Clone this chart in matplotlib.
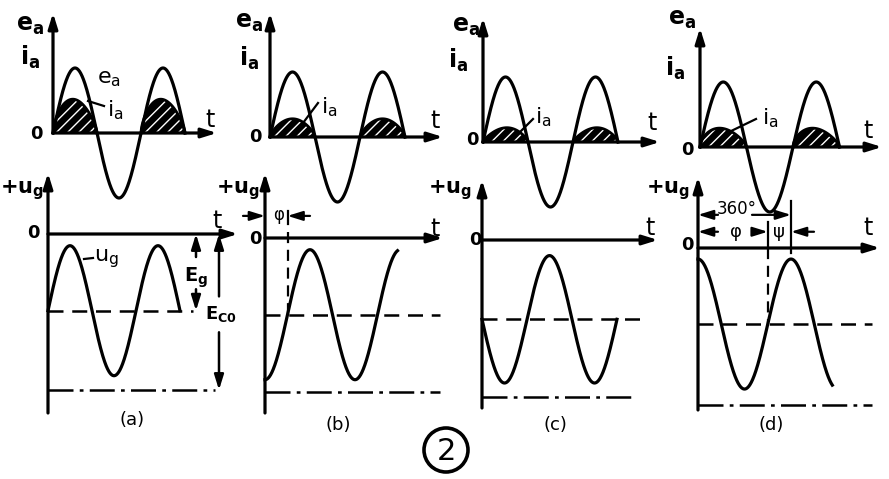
import numpy as np
import matplotlib.pyplot as plt
from matplotlib.patches import Circle

# ---- values (1 unit = peak of e_a) ----
panel_labels = ['(a)', '(b)', '(c)', '(d)']
phi_deg = [0, 90, 180, 270]             # lag of u_g behind e_a
ia_peak = [0.52, 0.28, 0.22, 0.29]      # height of the i_a pulses
ia_peak_pos = [0.45, 0.50, 0.53, 0.42]  # where the pulse peaks inside the half cycle
ug_amp = [1.0, 1.0, 0.98, 1.0]
Eg = [1.18, 1.18, 1.22, 1.17]           # grid bias, dashed line
Ec0 = [2.4, 2.37, 2.42, 2.42]           # cut-off bias, dash-dot line
ug_end_deg = [540, 530, 540, 520]
ea_end_deg = 540

# ---- layout of the four sketches, pixels of the 889x479 picture ----
W, H = 889, 479
UNIT = 65.0
top_origin = [(53, 133), (270, 137), (483, 142), (700, 147)]
bot_origin = [(48, 234), (265, 238), (482, 240), (698, 248)]
period_px = [88, 90, 90, 93]
top_tip = [13, 13, 18, 28]
top_end = [217, 443, 660, 882]
bot_tip = [173, 173, 180, 177]
bot_foot = [413, 413, 408, 410]
bot_end = [238, 443, 658, 880]
bias_end = [193, 440, 643, 872]
cut_end = [215, 440, 633, 872]

plt.rcParams['mathtext.fontset'] = 'dejavusans'
plt.rcParams['hatch.color'] = 'white'
plt.rcParams['hatch.linewidth'] = 1.0

fig = plt.figure(figsize=(W / 100, H / 100), dpi=100)
LW = 2.3
K = 'black'


def make_axes(origin, period):
    ox, oy = origin
    sx = period / 360.0
    ax = fig.add_axes([0, 0, 1, 1])
    ax.set_xlim(-ox / sx, (W - ox) / sx)
    ax.set_ylim((oy - H) / UNIT, oy / UNIT)
    ax.axis('off')
    xd = lambda px: (px - ox) / sx
    yd = lambda py: (oy - py) / UNIT
    return ax, xd, yd


def arrow(ax, x0, y0, x1, y1, lw=LW):
    ax.annotate('', xy=(x1, y1), xytext=(x0, y0),
                arrowprops=dict(arrowstyle='-|>,head_length=0.9,head_width=0.28',
                                lw=lw, color=K, shrinkA=0, shrinkB=0))


ov = fig.add_axes([0, 0, 1, 1])
ov.set_xlim(0, W)
ov.set_ylim(H, 0)
ov.axis('off')


def label(x, y, s, size=15, **kw):
    ov.text(x, y, s, ha='center', va='center', fontsize=size, color=K, **kw)


def leader(x0, y0, x1, y1):
    ov.plot([x0, x1], [y0, y1], color=K, lw=1.6)


for i in range(4):
    # --- upper sketch: e_a and i_a ---
    ax, xd, yd = make_axes(top_origin[i], period_px[i])
    th = np.linspace(0, ea_end_deg, 500)
    ax.plot(th, np.sin(np.radians(th)), color=K, lw=LW)
    g = np.log(0.5) / np.log(ia_peak_pos[i])
    u = np.linspace(0, 1, 120)
    pulse = ia_peak[i] * np.sin(np.pi * u ** g) ** 0.7
    for k in range(2):
        tl = (u + 2 * k) * 180
        ax.fill_between(tl, 0, pulse, facecolor=K, edgecolor='white',
                        hatch='///', lw=0)
        ax.plot(tl, pulse, color=K, lw=2.0)
    arrow(ax, 0, 0, 0, yd(top_tip[i]))
    arrow(ax, 0, 0, xd(top_end[i]), 0)

    # --- lower sketch: u_g ---
    ax, xd, yd = make_axes(bot_origin[i], period_px[i])
    th = np.linspace(0, ug_end_deg[i], 500)
    ug = -Eg[i] + ug_amp[i] * np.sin(np.radians(th - phi_deg[i]))
    ax.plot(th, ug, color=K, lw=LW)
    ax.plot([0, xd(bias_end[i])], [-Eg[i], -Eg[i]], color=K, lw=1.8,
            dashes=(6, 3.5))
    ax.plot([0, xd(cut_end[i])], [-Ec0[i], -Ec0[i]], color=K, lw=1.8,
            dashes=(10, 2.5, 1.5, 2.5))
    arrow(ax, 0, yd(bot_foot[i]), 0, yd(bot_tip[i]))
    arrow(ax, 0, 0, xd(bot_end[i]), 0)

    if i == 0:
        x = xd(196)
        arrow(ax, x, -0.3 * Eg[i], x, 0, lw=1.8)
        arrow(ax, x, -0.72 * Eg[i], x, -Eg[i], lw=1.8)
        ax.text(x, -0.57 * Eg[i], r'$\mathbf{E_g}$', ha='center', va='center', fontsize=14)
        x = xd(219)
        arrow(ax, x, -0.40 * Ec0[i], x, 0, lw=1.8)
        arrow(ax, x, -0.63 * Ec0[i], x, -Ec0[i], lw=1.8)
        ax.text(x + 10, -0.51 * Ec0[i], r'$\mathbf{E_{C0}}$', ha='center', va='center', fontsize=13)
    if i == 1:
        p = phi_deg[i]
        arrow(ax, xd(243), 0.34, 0, 0.34, lw=1.6)
        arrow(ax, xd(310), 0.34, p, 0.34, lw=1.6)
        ax.plot([p, p], [0.22, 0.42], color=K, lw=1.6)
        ax.plot([p, p], [0.1, -Eg[i]], color=K, lw=1.6, dashes=(5, 3))
        ax.text(p / 2 + 8, 0.36, 'φ', ha='center', va='center', fontsize=12)
    if i == 3:
        p = phi_deg[i]
        arrow(ax, xd(718), 0.51, 0, 0.51, lw=1.6)
        arrow(ax, xd(752), 0.51, 360, 0.51, lw=1.6)
        ax.text(xd(737), 0.60, '360°', ha='center', va='center', fontsize=12)
        arrow(ax, xd(718), 0.25, 0, 0.25, lw=1.6)
        arrow(ax, xd(752), 0.25, p, 0.25, lw=1.6)
        ax.text(xd(736), 0.25, 'φ', ha='center', va='center', fontsize=13)
        ax.text((p + 360) / 2, 0.25, 'ψ', ha='center', va='center', fontsize=13)
        arrow(ax, xd(814), 0.25, 360, 0.25, lw=1.6)
        ax.plot([360, 360], [0.72, -0.08], color=K, lw=1.6)
        ax.plot([p, p], [0.4, 0], color=K, lw=1.6)
        ax.plot([p, p], [0, -Eg[i]], color=K, lw=1.6, dashes=(5, 3))

# ---- axis names, curve names and captions ----
ea_lab = [(30, 25), (249, 22), (466, 26), (682, 19)]
ia_lab = [(30, 57), (249, 58), (458, 60), (675, 68)]
zero_top = [(36, 134), (255, 137), (472, 140), (687, 150)]
t_top = [(210, 120), (435, 121), (652, 123), (868, 131)]
ug_lab = [(22, 190), (238, 190), (450, 190), (668, 190)]
zero_bot = [(33, 233), (255, 239), (475, 240), (687, 245)]
t_bot = [(217, 221), (435, 229), (650, 228), (868, 228)]
cap = [(132, 420), (338, 425), (555, 425), (771, 425)]
ia_curve = [(115, 110), (329, 107), (543, 117), (770, 118)]
ia_lead = [(88, 101, 104, 106), (303, 123, 318, 103), (520, 132, 533, 119),
           (727, 133, 756, 119)]

for i in range(4):
    label(*ea_lab[i], r'$\mathbf{e_a}$', size=17)
    label(*ia_lab[i], r'$\mathbf{i_a}$', size=17)
    label(*zero_top[i], '0', size=13, fontweight='bold')
    label(*t_top[i], 't', size=17)
    label(*ug_lab[i], r'$\mathbf{+u_g}$', size=15)
    label(*zero_bot[i], '0', size=13, fontweight='bold')
    label(*t_bot[i], 't', size=17)
    label(*cap[i], panel_labels[i], size=13)
    label(*ia_curve[i], r'$\mathrm{i_a}$', size=16)
    leader(*ia_lead[i])

label(109, 79, r'$\mathrm{e_a}$', size=16)
label(106, 259, r'$\mathrm{u_g}$', size=16)
leader(84, 259, 93, 258)

ov.add_patch(Circle((446, 450), 22, fill=False, lw=2.6, color=K))
label(446, 451, '2', size=22)

fig.savefig('out.png', dpi=100, facecolor='white')
